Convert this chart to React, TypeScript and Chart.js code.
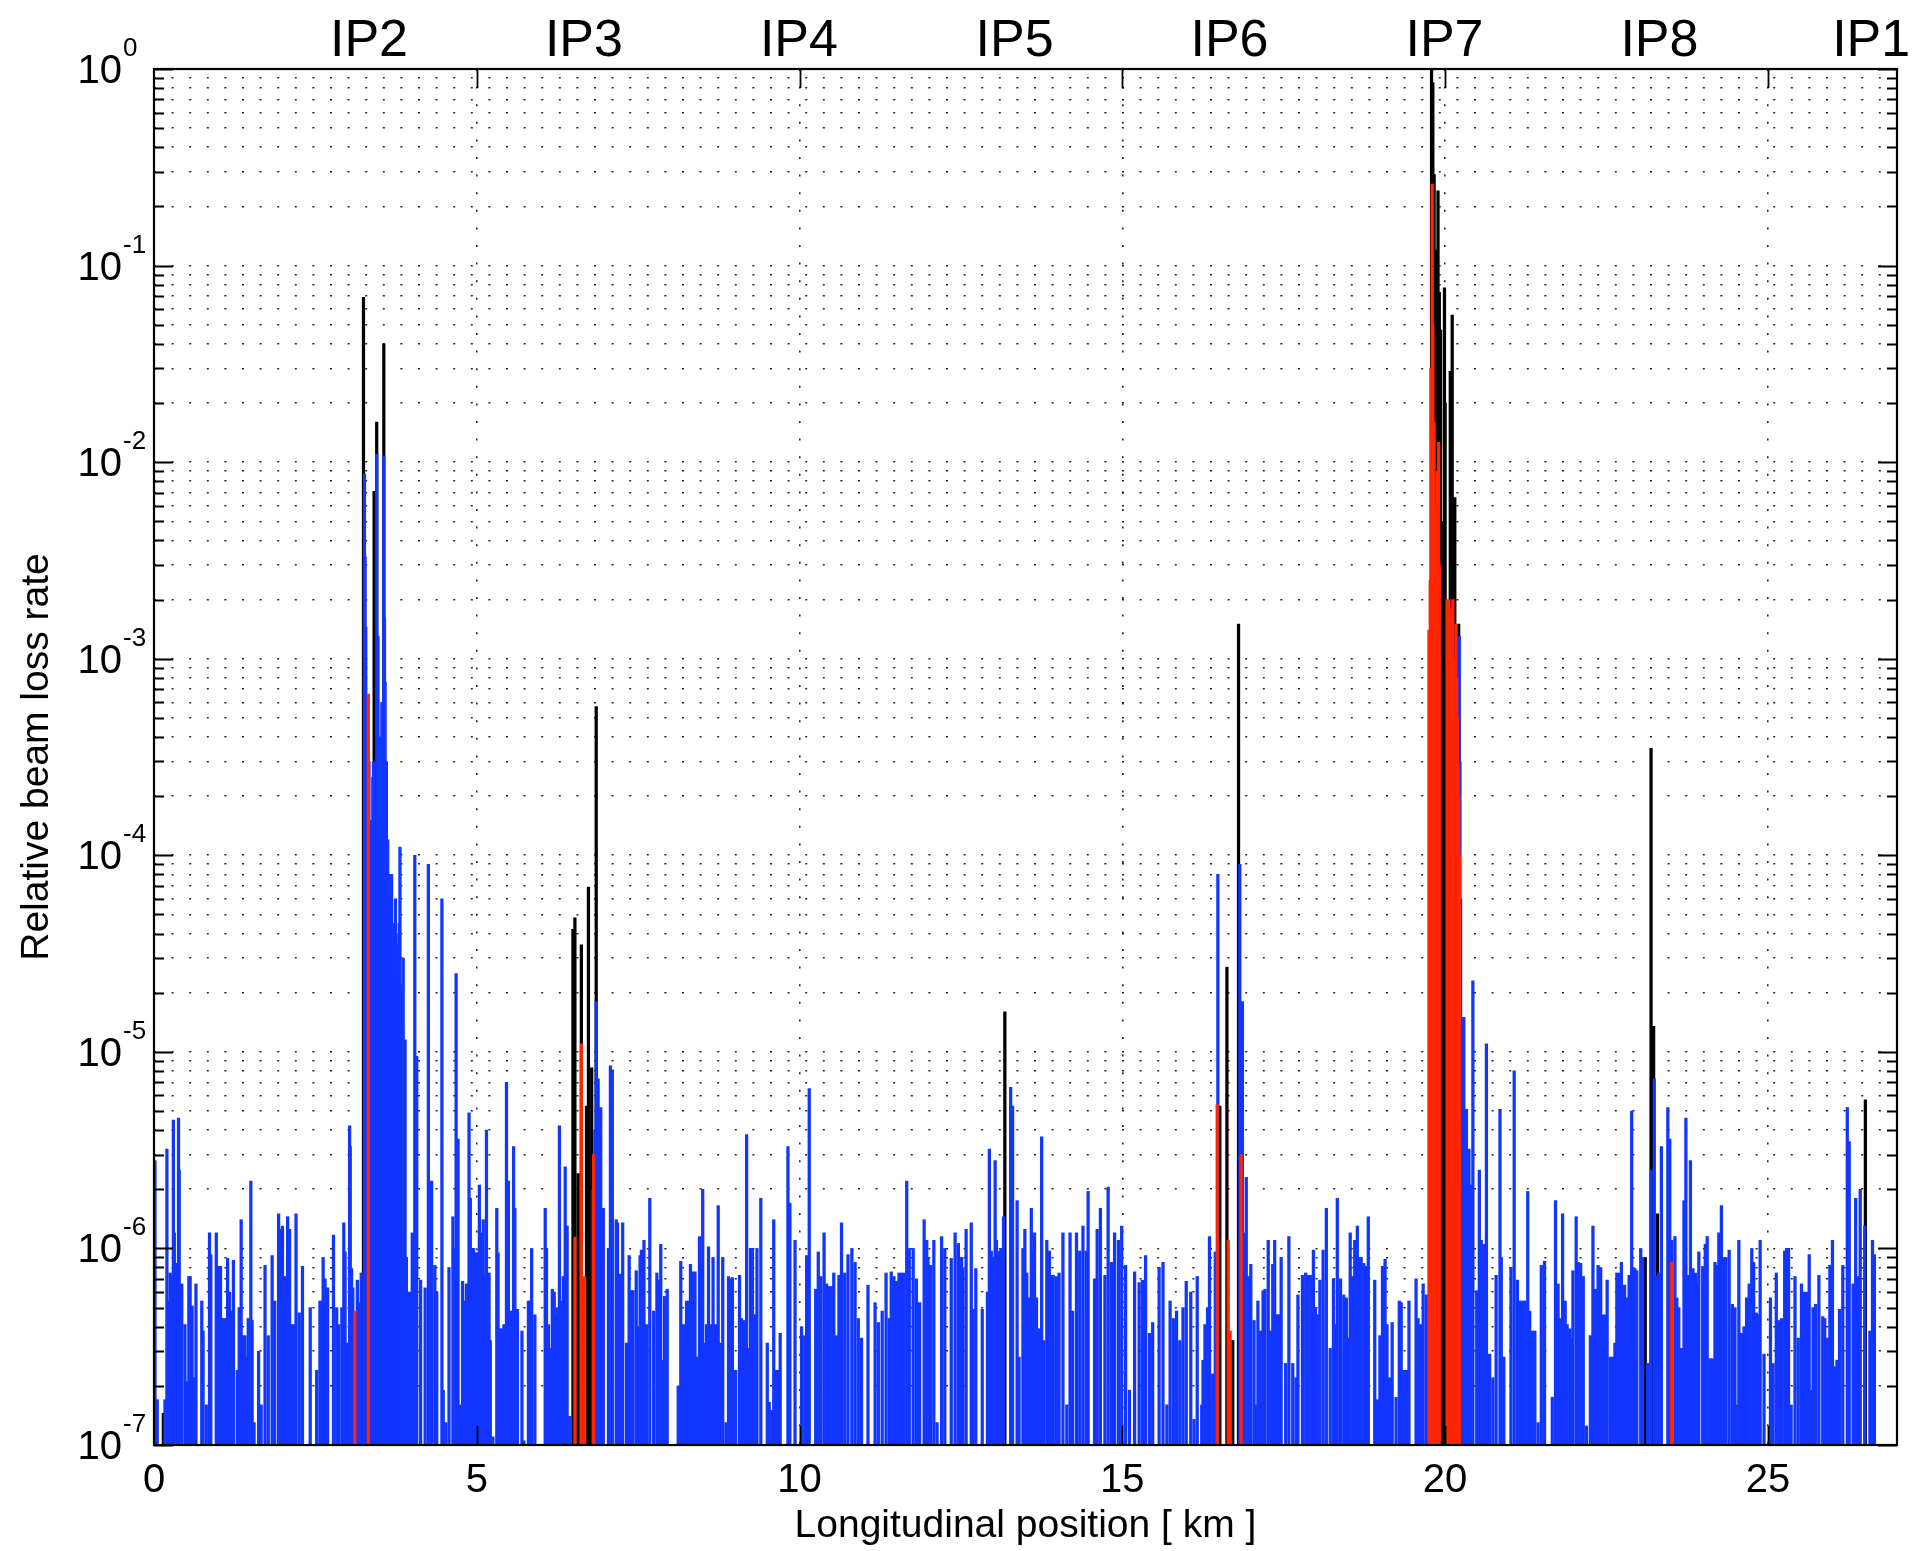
import React, { useEffect, useRef } from 'react';
import { Chart, registerables } from 'chart.js';

Chart.register(...registerables);

const FONT = '"Liberation Sans", Arial, Helvetica, sans-serif';

// Interaction-point labels along the top and their ring positions [km]
const ipLabels = ['IP2', 'IP3', 'IP4', 'IP5', 'IP6', 'IP7', 'IP8', 'IP1'];
const ipPositions = [3.33, 6.66, 9.99, 13.33, 16.66, 19.99, 23.32, 26.6];

// Axis ticks
const xTickValues = [0, 5, 10, 15, 20, 25];
const yExponents = [-7, -6, -5, -4, -3, -2, -1, 0];
const yMantissas = [1, 2, 3, 4, 5, 6, 7, 8, 9];

// [position km, relative loss rate] — cold elements (blue)
const blueLoss: [number, number][] = [
  [0.015, 2.8e-6], [0.05, 1.7e-7], [0.17, 1.7e-7], [0.20, 3.2e-6], [0.22, 5.4e-7], [0.25, 7.5e-7], [0.27, 7.3e-7], [0.30, 4.5e-6],
  [0.315, 1.2e-6], [0.35, 8.4e-7], [0.38, 4.6e-6], [0.39, 2.5e-6], [0.43, 6.6e-7], [0.48, 4.1e-7], [0.52, 2.1e-7], [0.54, 7.2e-7],
  [0.56, 7.2e-7], [0.59, 5.1e-7], [0.61, 2.2e-7], [0.65, 6.6e-7], [0.74, 5.4e-7], [0.76, 3.8e-7], [0.81, 1.6e-7], [0.86, 1.2e-6],
  [0.88, 9.3e-7], [0.965, 1.2e-6], [1.00, 8.1e-7], [1.03, 8.1e-7], [1.05, 4.4e-7], [1.08, 4.4e-7], [1.11, 4.4e-7], [1.14, 8.9e-7],
  [1.17, 6.0e-7], [1.19, 4.8e-7], [1.23, 8.7e-7], [1.29, 2.4e-7], [1.32, 5.0e-7], [1.35, 1.4e-6], [1.38, 3.6e-7], [1.41, 3.6e-7],
  [1.44, 2.8e-7], [1.46, 4.4e-7], [1.50, 2.2e-6], [1.52, 4.3e-7], [1.55, 1.3e-7], [1.62, 3.0e-7], [1.66, 1.6e-7], [1.72, 8.2e-7],
  [1.77, 3.6e-7], [1.83, 9.2e-7], [1.87, 5.4e-7], [1.93, 1.5e-6], [1.96, 1.25e-6], [1.99, 1.3e-6], [2.03, 7.2e-7], [2.07, 1.45e-6],
  [2.10, 1.25e-6], [2.13, 4.1e-7], [2.17, 4.1e-7], [2.20, 1.5e-6], [2.25, 4.7e-7], [2.30, 8.1e-7], [2.42, 5.0e-7], [2.52, 2.4e-7],
  [2.57, 5.4e-7], [2.60, 5.4e-7], [2.62, 9.0e-7], [2.65, 7.0e-7], [2.69, 6.3e-7], [2.78, 1.17e-6], [2.83, 5.0e-7], [2.86, 4.1e-7],
  [2.91, 5.0e-7], [2.94, 1.35e-6], [2.96, 9.6e-7], [2.99, 3.3e-7], [3.03, 4.2e-6], [3.04, 3.3e-6], [3.06, 7.9e-7], [3.08, 6.3e-7],
  [3.15, 6.9e-7], [3.18, 5.3e-7], [3.21, 7.5e-7],
  [3.26, 8.7e-3], [3.27, 3.3e-3], [3.28, 1.45e-3], [3.29, 4e-4], [3.30, 2e-4], [3.31, 1e-4], [3.33, 3e-4], [3.34, 5e-5],
  [3.35, 8e-5], [3.36, 1.2e-4], [3.37, 1.5e-4], [3.38, 6e-5], [3.39, 2.5e-4], [3.40, 3e-4], [3.42, 1.5e-4], [3.43, 9e-5],
  [3.44, 6e-5], [3.45, 1.1e-2], [3.46, 2e-4], [3.47, 1.3e-3], [3.48, 1e-4], [3.49, 4e-4], [3.50, 1e-4], [3.51, 1.2e-4],
  [3.52, 8e-5], [3.53, 6e-4], [3.54, 3e-4], [3.55, 2e-4], [3.56, 1.07e-2], [3.57, 1.6e-3], [3.58, 7.6e-4], [3.59, 5e-5],
  [3.60, 3e-4], [3.61, 3e-5], [3.62, 1.2e-4], [3.63, 8e-5], [3.64, 2.5e-5], [3.65, 5e-5], [3.66, 6e-5], [3.67, 3e-5],
  [3.68, 8e-5], [3.69, 2e-5], [3.70, 3.5e-5], [3.71, 4.5e-5], [3.72, 3e-5], [3.73, 2.2e-5], [3.74, 6e-5], [3.75, 4e-5],
  [3.76, 9.5e-6], [3.77, 2.5e-5], [3.78, 1.5e-5], [3.79, 3.5e-5], [3.80, 4.5e-5], [3.81, 1.1e-4], [3.82, 2.2e-5], [3.83, 1.8e-5],
  [3.84, 2e-5], [3.85, 1.3e-5], [3.86, 3e-5], [3.89, 1.15e-5], [3.91, 9e-7], [3.96, 6e-7], [4.00, 1.2e-6], [4.04, 1.0e-4],
  [4.07, 9.5e-6], [4.13, 6.9e-7], [4.20, 6.3e-7], [4.25, 9.0e-5], [4.30, 2.2e-6], [4.35, 8.2e-7], [4.38, 6.0e-7],
  [4.46, 6e-5], [4.48, 1.9e-7], [4.52, 1.3e-7], [4.57, 8e-7], [4.63, 1.45e-6], [4.65, 1.0e-6], [4.68, 2.5e-5], [4.71, 3.6e-6],
  [4.75, 1.6e-7], [4.78, 6.8e-7], [4.82, 5.4e-7], [4.84, 6.6e-7], [4.88, 4.9e-6], [4.90, 1.8e-6], [4.92, 1.0e-6], [4.95, 1.0e-6],
  [4.97, 9.5e-7], [5.01, 9.5e-7], [5.04, 2.1e-6], [5.08, 1.2e-6], [5.10, 1.4e-6], [5.13, 7.2e-7], [5.15, 4.0e-6], [5.19, 7.5e-7],
  [5.21, 3.4e-7], [5.25, 1.1e-7], [5.31, 1.6e-6], [5.33, 9.5e-7], [5.36, 3.9e-7], [5.39, 3.9e-7], [5.42, 4.1e-7], [5.46, 7e-6],
  [5.49, 2.2e-6], [5.52, 4.8e-7], [5.57, 3.3e-6], [5.59, 1.6e-6], [5.63, 4.9e-7], [5.70, 3.8e-7], [5.73, 1.05e-7], [5.80, 5.4e-7],
  [5.82, 5.4e-7], [5.85, 1.0e-6], [5.90, 4.6e-7], [6.06, 1.6e-6], [6.08, 1.0e-6], [6.11, 4.1e-7], [6.14, 3.1e-7], [6.17, 6.2e-7],
  [6.20, 6.0e-7], [6.23, 4.6e-7], [6.25, 5.0e-7], [6.28, 4.2e-6], [6.30, 5.4e-7], [6.34, 7.2e-7], [6.37, 2.6e-6], [6.40, 1.3e-6],
  [6.44, 1.4e-7], [6.80, 2.0e-6], [6.83, 4e-6], [6.85, 1.8e-5], [6.88, 7.3e-6], [6.92, 5.2e-6], [6.96, 1.6e-6], [7.04, 1.0e-6],
  [7.07, 8.5e-6], [7.10, 8.1e-6], [7.16, 1.4e-6], [7.18, 1.35e-6], [7.22, 7.4e-7], [7.26, 1.35e-6], [7.32, 3.3e-7], [7.36, 9.2e-7],
  [7.40, 6.1e-7], [7.42, 6.1e-7], [7.47, 7.7e-7], [7.50, 4.0e-7], [7.53, 9.2e-7], [7.55, 9.8e-7], [7.59, 1.1e-6], [7.63, 4.1e-7],
  [7.68, 1.8e-6], [7.74, 4.8e-7], [7.79, 7.5e-7], [7.81, 6.9e-7], [7.85, 1.05e-6], [7.88, 2.7e-7], [7.91, 5.7e-7], [7.95, 6.2e-7],
  [8.12, 2.0e-7], [8.16, 8.6e-7], [8.20, 4.1e-7], [8.25, 5.4e-7], [8.28, 5.4e-7], [8.31, 8.3e-7], [8.34, 7.6e-7], [8.38, 7.6e-7],
  [8.42, 2.8e-7], [8.45, 1.15e-6], [8.47, 8.3e-7], [8.50, 2.0e-6], [8.53, 3.3e-7], [8.56, 4.1e-7], [8.59, 1.02e-6], [8.62, 4.1e-7],
  [8.66, 9.0e-7], [8.70, 4.1e-7], [8.74, 1.65e-6], [8.77, 3.3e-7], [8.81, 9.0e-7], [8.86, 1.3e-7], [8.90, 7.2e-7],
  [8.93, 7.0e-7], [8.96, 7.1e-7], [9.01, 2.4e-7], [9.07, 7.3e-7], [9.10, 4.4e-7], [9.14, 4.3e-7], [9.18, 3.8e-6], [9.20, 3.1e-7],
  [9.24, 1.0e-6], [9.27, 1.0e-6], [9.30, 4.6e-7], [9.34, 1.0e-6], [9.40, 1.8e-6], [9.50, 3.3e-7], [9.53, 1.65e-7], [9.57, 1.5e-7],
  [9.60, 1.4e-6], [9.63, 2.4e-7], [9.67, 2.4e-7], [9.70, 3.7e-7], [9.82, 3.3e-6], [9.85, 1.7e-6], [9.93, 1.1e-6], [10.03, 4.0e-7],
  [10.08, 3.6e-7], [10.11, 9.2e-7], [10.15, 6.5e-6], [10.25, 6.2e-7], [10.29, 9.6e-7], [10.33, 7.2e-7], [10.38, 1.2e-6], [10.42, 6.6e-7],
  [10.46, 6.4e-7], [10.50, 6.4e-7], [10.53, 7.5e-7], [10.57, 3.6e-7], [10.61, 7.3e-7], [10.65, 1.35e-6], [10.70, 7.5e-7], [10.75, 9.3e-7],
  [10.81, 1.0e-6], [10.86, 8.5e-7], [10.91, 4.4e-7], [10.96, 3.5e-7], [11.06, 6.5e-7], [11.17, 5.3e-7], [11.22, 4.2e-7], [11.28, 4.8e-7],
  [11.34, 7.5e-7], [11.39, 4.4e-7], [11.42, 7.6e-7], [11.46, 7.2e-7], [11.50, 6.8e-7], [11.54, 7.5e-7], [11.58, 7.5e-7], [11.61, 7.5e-7],
  [11.66, 2.2e-6], [11.70, 1.0e-6], [11.76, 1.0e-6], [11.81, 7.0e-7], [11.86, 5.3e-7], [11.93, 1.4e-6], [11.97, 1.1e-6], [11.99, 9.0e-7],
  [12.03, 8.2e-7], [12.08, 1.1e-6], [12.13, 1.3e-7], [12.20, 1.15e-6], [12.25, 1.0e-6], [12.35, 8.9e-7], [12.41, 1.2e-6], [12.46, 1.06e-6],
  [12.49, 9.0e-7], [12.51, 9.0e-7], [12.53, 7.9e-7], [12.58, 1.25e-6], [12.66, 1.35e-6], [12.69, 4.9e-7], [12.73, 7.9e-7], [12.83, 4.9e-7],
  [12.91, 6.0e-7], [12.94, 3.2e-6], [12.97, 9.7e-7], [12.99, 8e-7], [13.01, 9e-7], [13.03, 2.8e-6], [13.05, 1.1e-6], [13.08, 9.7e-7],
  [13.10, 8.1e-7], [13.12, 1.0e-6], [13.13, 9.0e-7], [13.14, 8.5e-7], [13.16, 1.45e-6], [13.27, 6.6e-6], [13.30, 5.3e-6], [13.37, 1.75e-6],
  [13.40, 2.8e-7],
  [13.46, 1.0e-6], [13.49, 1.25e-6], [13.52, 7.5e-7], [13.56, 5.6e-7], [13.59, 1.6e-6], [13.62, 9.6e-7], [13.64, 1.2e-6], [13.67, 5.6e-7],
  [13.71, 3.9e-7], [13.75, 3.7e-6], [13.78, 3.4e-7], [13.83, 1.1e-6], [13.87, 9.7e-7], [13.89, 7.3e-7], [13.93, 7.3e-7], [13.98, 7.2e-7],
  [14.02, 7.5e-7], [14.08, 1.2e-6], [14.14, 1.6e-7], [14.19, 1.2e-6], [14.23, 4.8e-7], [14.29, 1.2e-6], [14.34, 9.7e-7], [14.39, 1.3e-6],
  [14.44, 9.7e-7], [14.47, 1.95e-6], [14.57, 7.0e-7], [14.61, 1.25e-6], [14.66, 1.6e-6], [14.73, 7.3e-7], [14.78, 2.05e-6], [14.83, 8.5e-7],
  [14.88, 1.2e-6], [14.94, 1.1e-6], [14.99, 1.3e-6], [15.05, 8.2e-7], [15.11, 1.9e-7], [15.19, 7.6e-7], [15.26, 6.7e-7], [15.31, 6.9e-7],
  [15.36, 9.2e-7], [15.42, 3.7e-7], [15.47, 4.2e-7], [15.57, 8.0e-7], [15.63, 8.5e-7], [15.69, 1.6e-7], [15.74, 5.4e-7], [15.79, 4.4e-7],
  [15.84, 4.8e-7], [15.89, 3.4e-7], [15.94, 5.0e-7], [15.99, 6.8e-7], [16.06, 6.0e-7], [16.11, 1.35e-7], [16.16, 7.2e-7], [16.23, 1.6e-7],
  [16.25, 2.7e-7], [16.28, 4.1e-7], [16.32, 5.0e-7], [16.35, 1.15e-6], [16.40, 2.3e-7], [16.44, 9.6e-7], [16.48, 8.0e-5], [16.82, 9.0e-5],
  [16.86, 1.8e-5], [16.89, 1.2e-6], [16.92, 2.3e-6], [16.96, 7.2e-7], [16.99, 8.3e-7], [17.04, 4.3e-7], [17.08, 1.6e-7], [17.10, 5.4e-7],
  [17.14, 3.8e-7], [17.18, 6.1e-7], [17.21, 6.2e-7], [17.26, 1.1e-6], [17.30, 3.8e-7], [17.33, 8.3e-7], [17.36, 1.1e-6], [17.40, 4.6e-7],
  [17.43, 4.6e-7], [17.46, 9.0e-7], [17.53, 2.6e-7], [17.58, 1.15e-6], [17.64, 2.6e-7], [17.69, 2.2e-7], [17.72, 5.8e-7], [17.79, 7.3e-7],
  [17.84, 7.5e-7], [17.88, 7.3e-7],
  [17.92, 7.3e-7], [17.96, 9.8e-7], [17.99, 5.0e-7], [18.02, 4.6e-7], [18.06, 6.9e-7], [18.11, 9.8e-7], [18.16, 1.6e-6], [18.22, 3.1e-7],
  [18.27, 7.0e-7], [18.29, 4.1e-7], [18.33, 1.8e-6], [18.38, 7.0e-7], [18.43, 5.8e-7], [18.47, 5.6e-7], [18.50, 3.5e-7], [18.53, 1.2e-6],
  [18.57, 7.2e-7], [18.60, 1.1e-6], [18.64, 1.3e-6], [18.67, 9.0e-7], [18.70, 9.0e-7], [18.74, 8.4e-7], [18.77, 8.1e-7], [18.81, 1.45e-6],
  [18.91, 6.9e-7], [18.95, 1.7e-7], [18.99, 3.6e-7], [19.03, 8.1e-7], [19.07, 8.8e-7], [19.10, 4.1e-7], [19.14, 2.2e-7], [19.18, 4.2e-7],
  [19.24, 1.75e-7], [19.29, 5.4e-7], [19.32, 5.3e-7], [19.36, 2.4e-7], [19.40, 2.4e-7], [19.44, 5.4e-7], [19.55, 7.0e-7], [19.58, 4.4e-7],
  [19.62, 4.1e-7], [19.66, 6.6e-7], [19.71, 5.8e-7], [19.73, 5.5e-7],
  [20.22, 1.3e-3], [20.23, 3e-4], [20.24, 6e-5], [20.25, 1.5e-5], [20.27, 8e-6], [20.29, 1.5e-5], [20.31, 4e-6], [20.33, 5.1e-6],
  [20.35, 2.5e-6], [20.37, 3.2e-6], [20.39, 1.5e-6], [20.41, 2.1e-6], [20.43, 2.3e-5], [20.49, 6.1e-7], [20.53, 2.5e-6], [20.56, 1.1e-6],
  [20.60, 1.05e-6], [20.64, 1.1e-5], [20.69, 2.9e-7], [20.74, 2.2e-7], [20.79, 7.3e-7], [20.85, 5.1e-6], [20.87, 9.0e-7], [20.91, 2.8e-7],
  [21.02, 8.0e-7], [21.07, 8.0e-6], [21.12, 6.9e-7], [21.17, 5.4e-7], [21.21, 5.4e-7], [21.24, 5.4e-7], [21.28, 1.95e-6], [21.31, 4.8e-7],
  [21.35, 3.8e-7], [21.39, 3.8e-7], [21.44, 1.3e-7], [21.49, 8.2e-7], [21.54, 8.6e-7], [21.66, 1.75e-7], [21.71, 1.75e-6], [21.75, 6.6e-7],
  [21.79, 4.4e-7], [21.82, 1.5e-6], [21.86, 5.4e-7], [21.89, 4.1e-7], [21.93, 3.9e-7], [21.96, 3.5e-7], [21.98, 7.7e-7], [22.03, 1.45e-6],
  [22.06, 8.5e-7], [22.10, 8.4e-7], [22.14, 7.2e-7], [22.19, 1.25e-7], [22.25, 3.6e-7], [22.29, 1.3e-6], [22.33, 6.2e-7], [22.37, 8.2e-7],
  [22.41, 8.0e-7], [22.44, 4.6e-7], [22.47, 4.6e-7], [22.51, 6.9e-7], [22.56, 2.8e-7], [22.59, 2.8e-7], [22.63, 3.3e-7], [22.66, 7.5e-7],
  [22.70, 7.5e-7], [22.73, 8.5e-7], [22.78, 6.5e-7], [22.81, 5.6e-7], [22.85, 7.3e-7], [22.89, 5.0e-6], [22.91, 8.0e-7], [22.94, 7.9e-7],
  [22.97, 7.7e-7], [23.03, 1.0e-6], [23.06, 9.0e-7], [23.14, 2.6e-7], [23.19, 2.5e-6], [23.24, 7.3e-6], [23.27, 7.2e-7], [23.31, 7.5e-7],
  [23.35, 3.3e-6], [23.45, 5.2e-6], [23.48, 3.6e-6], [23.51, 1.1e-6], [23.56, 1.15e-6], [23.59, 5.6e-7], [23.62, 5.0e-7], [23.66, 3.1e-7],
  [23.70, 1.75e-6], [23.73, 4.6e-6], [23.76, 7.3e-7], [23.80, 2.8e-6], [23.84, 7.9e-7], [23.88, 7.5e-7], [23.91, 6.6e-7], [23.93, 9.6e-7],
  [23.99, 8.1e-7], [24.03, 1.05e-6], [24.06, 1.15e-6], [24.10, 2.75e-7], [24.14, 2.75e-7], [24.18, 8.5e-7], [24.21, 8.2e-7], [24.24, 1.2e-6],
  [24.28, 1.65e-6], [24.32, 9.0e-7], [24.35, 9.0e-7], [24.40, 9.8e-7], [24.45, 5.2e-7], [24.49, 5.0e-7], [24.51, 1.6e-7], [24.55, 1.1e-6],
  [24.59, 3.7e-7], [24.63, 4.0e-7], [24.67, 5.6e-7], [24.71, 6.6e-7], [24.75, 1.0e-6], [24.78, 8.5e-7], [24.82, 4.7e-7], [24.85, 4.6e-7],
  [24.88, 1.1e-6], [24.94, 2.9e-7], [25.04, 5.6e-7], [25.08, 2.6e-7], [25.13, 7.5e-7], [25.17, 4.3e-7], [25.21, 4.4e-7], [25.26, 9.7e-7],
  [25.29, 1.0e-6], [25.32, 1.0e-6], [25.36, 1.6e-7], [25.42, 7.2e-7], [25.47, 3.5e-7], [25.52, 6.6e-7], [25.55, 6.0e-7], [25.60, 6.0e-7],
  [25.64, 9.3e-7], [25.66, 1.9e-7], [25.70, 5.0e-7], [25.74, 5.2e-7], [25.79, 7.3e-7], [25.85, 4.5e-7], [25.88, 4.4e-7], [25.92, 3.5e-7],
  [25.96, 8.2e-7], [26.00, 1.1e-6], [26.03, 2.5e-7], [26.07, 2.7e-7], [26.11, 4.9e-7], [26.16, 8.2e-7], [26.23, 5.2e-6], [26.26, 3.5e-6],
  [26.32, 6.6e-7], [26.36, 1.8e-6], [26.40, 7.2e-7], [26.43, 2.0e-6], [26.50, 1.3e-6], [26.58, 3.8e-7], [26.62, 1.1e-6], [26.65, 9.3e-7],
];

// warm elements (black)
const blackLoss: [number, number][] = [
  [0.145, 1.45e-7],
  [3.245, 0.069], [3.41, 7.1e-3], [3.45, 0.016], [3.56, 0.04],
  [6.49, 4.2e-5], [6.52, 4.8e-5], [6.57, 2.4e-6], [6.62, 3.5e-5], [6.70, 5.3e-6], [6.73, 6.9e-5], [6.78, 8.3e-6], [6.85, 5.7e-4],
  [13.18, 1.6e-5],
  [16.51, 5.3e-6], [16.62, 2.7e-5], [16.71, 3.4e-7], [16.80, 1.5e-3],
  [19.79, 1.0], [19.81, 0.85], [19.83, 0.29], [19.85, 0.12], [19.89, 0.24], [19.91, 0.073], [19.93, 0.047], [19.97, 5e-3],
  [19.99, 0.077], [20.00, 0.02], [20.08, 0.029], [20.11, 0.056], [20.15, 6.6e-3], [20.21, 1.5e-3],
  [23.10, 9e-7], [23.19, 3.5e-4], [23.23, 1.35e-5], [23.29, 1.5e-6],
  [26.51, 5.7e-6],
];

// collimators (red)
const redLoss: [number, number][] = [
  [3.11, 4.8e-7], [3.32, 6.6e-4],
  [6.52, 1.14e-6], [6.62, 1.1e-5], [6.67, 7.2e-7], [6.81, 3.0e-6],
  [16.47, 5.4e-6], [16.64, 1.1e-6], [16.67, 3.8e-7], [16.84, 3.0e-6],
  [19.75, 1.4e-3], [19.76, 8e-4], [19.77, 2.5e-3], [19.78, 0.03], [19.79, 4e-3], [19.80, 0.26], [19.81, 0.05], [19.82, 2e-3],
  [19.83, 0.016], [19.84, 4e-3], [19.85, 6e-3], [19.86, 2e-3], [19.87, 1.2e-3], [19.88, 9e-3], [19.89, 2.5e-3], [19.90, 0.0126],
  [19.91, 3e-3],
  [20.03, 2e-3], [20.04, 8e-4], [20.05, 1.5e-3], [20.06, 2e-3], [20.07, 9e-4], [20.08, 1.2e-3], [20.09, 6e-4], [20.10, 1.8e-3],
  [20.11, 1.1e-3], [20.12, 2e-3], [20.13, 1e-3], [20.14, 7e-4], [20.15, 6e-4], [20.16, 9e-4], [20.17, 1.5e-3], [20.18, 8e-4],
  [20.19, 5e-4], [20.20, 3e-4], [20.21, 2e-4], [20.22, 1e-4],
  [23.51, 8.5e-7],
];

const yGridValues: number[] = [];
yExponents.forEach((e) => {
  yMantissas.forEach((m) => {
    const v = m * Math.pow(10, e);
    if (v <= 1.0000001) yGridValues.push(v);
  });
});

const toPoints = (arr: [number, number][]) => arr.map(([x, y]) => ({ x, y }));

const framePlugin = {
  id: 'matlabFrame',
  afterDatasetsDraw(chart: any) {
    const { ctx, chartArea: a, scales } = chart;
    const xs = scales.x;
    const ys = scales.y;
    ctx.save();
    ctx.strokeStyle = '#000';
    ctx.lineWidth = 1.8;
    ctx.beginPath();
    yExponents.forEach((e) => {
      yMantissas.forEach((m) => {
        const v = m * Math.pow(10, e);
        if (v > 1.0000001) return;
        const py = Math.round(ys.getPixelForValue(v)) + 0.5;
        const len = m === 1 ? 19 : 10;
        ctx.moveTo(a.left, py);
        ctx.lineTo(a.left + len, py);
        ctx.moveTo(a.right - len, py);
        ctx.lineTo(a.right, py);
      });
    });
    xTickValues.forEach((v) => {
      if (v === 0) return;
      const px = Math.round(xs.getPixelForValue(v)) + 0.5;
      ctx.moveTo(px, a.top);
      ctx.lineTo(px, a.top + 19);
      ctx.moveTo(px, a.bottom - 19);
      ctx.lineTo(px, a.bottom);
    });
    ctx.stroke();
    ctx.lineWidth = 2.2;
    ctx.strokeRect(a.left, a.top, a.right - a.left, a.bottom - a.top);
    ctx.restore();
  },
  afterDraw(chart: any) {
    const { ctx, scales } = chart;
    const xs = scales.x;
    const ys = scales.y;
    ctx.save();
    ctx.fillStyle = '#000';
    ctx.textBaseline = 'alphabetic';
    yExponents.forEach((e) => {
      const py = ys.getPixelForValue(Math.pow(10, e));
      ctx.font = `40px ${FONT}`;
      ctx.textAlign = 'right';
      ctx.fillText('10', 122, py + 14);
      ctx.font = `26px ${FONT}`;
      ctx.textAlign = 'left';
      ctx.fillText(String(e), 123, py - 13);
    });
    ctx.font = `52px ${FONT}`;
    ctx.textAlign = 'center';
    ipLabels.forEach((lbl, i) => {
      ctx.fillText(lbl, xs.getPixelForValue(ipPositions[i]), 56);
    });
    ctx.restore();
  },
};

export default function App() {
  const canvasRef = useRef<HTMLCanvasElement | null>(null);

  useEffect(() => {
    document.body.style.margin = '0';
    const canvas = canvasRef.current;
    if (!canvas) return;
    Chart.defaults.font.family = FONT;
    const gridOpts = { color: 'rgba(0,0,0,0.85)', lineWidth: 1.6, drawTicks: false, offset: false };
    const chart = new Chart(canvas, {
      type: 'bar',
      data: {
        datasets: [
          { label: 'Collimators', data: toPoints(redLoss), backgroundColor: '#ff2600', order: 0 },
          { label: 'Cold', data: toPoints(blueLoss), backgroundColor: '#1236ff', order: 1 },
          { label: 'Warm', data: toPoints(blackLoss), backgroundColor: '#000000', order: 2 },
        ] as any,
      },
      options: {
        responsive: false,
        animation: false,
        devicePixelRatio: 1,
        events: [],
        layout: { padding: { top: 69, right: 22, left: 0, bottom: 0 } },
        datasets: { bar: { barThickness: 2.6, grouped: false, borderWidth: 0 } } as any,
        plugins: { legend: { display: false }, tooltip: { enabled: false } },
        scales: {
          x: {
            type: 'linear',
            position: 'bottom',
            min: 0,
            max: 27,
            offset: false,
            afterFit: (s: any) => { s.height = 106; },
            afterBuildTicks: (s: any) => { s.ticks = xTickValues.map((v) => ({ value: v })); },
            ticks: { font: { size: 40, family: FONT }, color: '#000', padding: 12, autoSkip: false, maxRotation: 0 },
            grid: gridOpts,
            border: { display: false, dash: [2, 15.6] },
            title: {
              display: true,
              text: 'Longitudinal position [ km ]',
              color: '#000',
              font: { size: 39, family: FONT },
              padding: { top: 0, bottom: 1 },
            },
          },
          y: {
            type: 'logarithmic',
            position: 'left',
            min: 1e-7,
            max: 1,
            offset: false,
            afterFit: (s: any) => { s.width = 154; },
            afterBuildTicks: (s: any) => { s.ticks = yGridValues.map((v) => ({ value: v })); },
            ticks: { display: false, autoSkip: false },
            grid: gridOpts,
            border: { display: false, dash: [2, 15.6] },
            title: {
              display: true,
              text: 'Relative beam loss rate',
              color: '#000',
              font: { size: 39, family: FONT },
              padding: { top: 14, bottom: 0 },
            },
          },
        },
      } as any,
      plugins: [framePlugin],
    });
    return () => chart.destroy();
  }, []);

  return (
    <div style={{ position: 'absolute', left: 0, top: 0, width: 1919, height: 1551, background: '#fff' }}>
      <canvas ref={canvasRef} width={1919} height={1551} />
    </div>
  );
}
